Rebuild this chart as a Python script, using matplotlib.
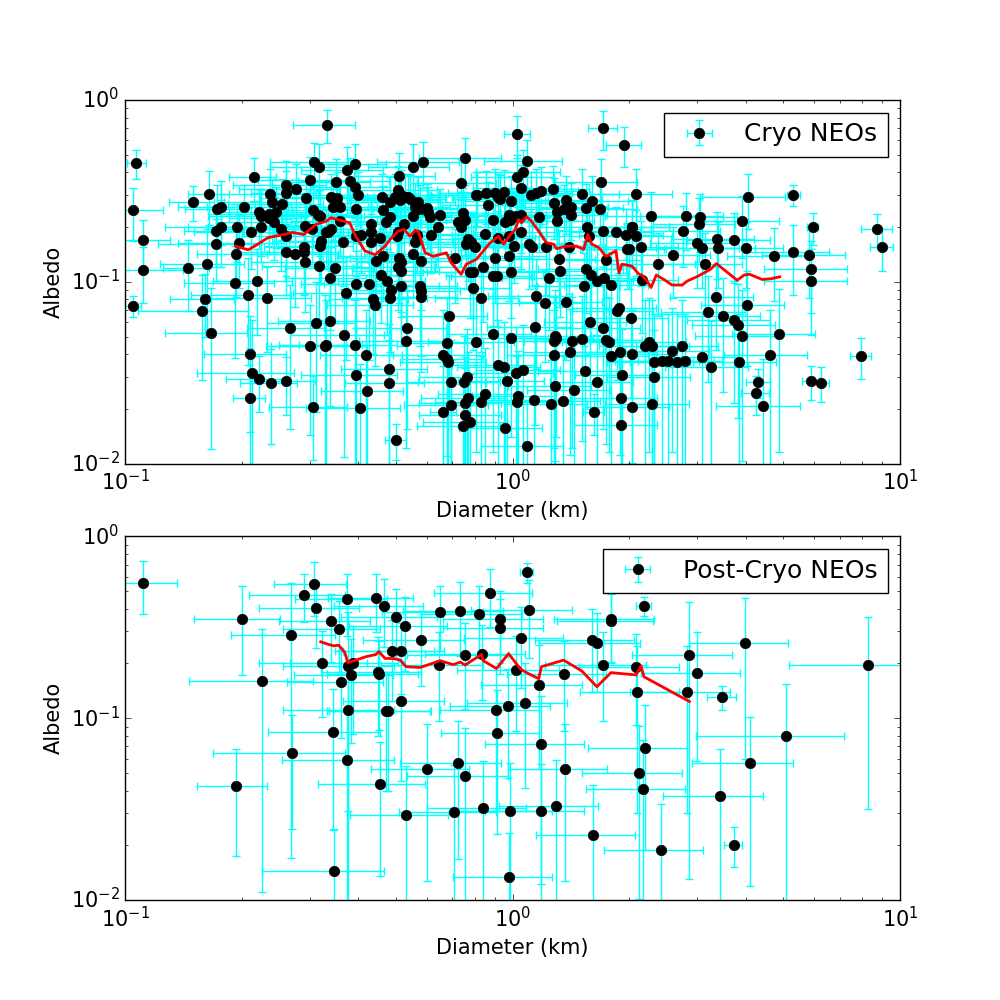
import matplotlib
matplotlib.use("Agg")
import matplotlib.pyplot as plt
import numpy as np

# ---------------- Cryo NEOs (top panel) ----------------
cryo_diam = [
 0.107,0.105,0.111,0.111,0.105,0.150,0.165,0.215,0.173,0.177,
 0.203,0.172,0.177,0.172,0.195,0.211,0.197,0.193,0.145,0.163,
 0.161,0.158,0.167,0.192,0.219,0.208,0.232,0.210,0.213,0.222,
 0.238,0.260,0.210,0.266,0.237,0.260,0.261,0.277,0.240,0.254,
 0.222,0.224,0.235,0.246,0.235,0.242,0.224,0.252,0.260,0.261,
 0.275,0.289,0.289,0.291,0.293,0.301,0.307,0.316,0.305,0.314,
 0.318,0.291,0.303,0.316,0.332,0.312,0.301,0.328,0.305,0.320,
 0.318,0.330,0.392,0.374,0.350,0.380,0.392,0.340,0.352,0.399,
 0.344,0.358,0.394,0.358,0.340,0.334,0.365,0.348,0.338,0.371,
 0.394,0.426,0.431,0.431,0.406,0.394,0.431,0.455,0.444,0.463,
 0.458,0.436,0.442,0.474,0.486,0.483,0.460,0.463,0.483,0.483,
 0.472,0.510,0.507,0.498,0.516,0.528,0.513,0.525,0.507,0.504,
 0.510,0.516,0.516,0.507,0.516,0.554,0.588,0.538,0.571,0.561,
 0.544,0.554,0.577,0.606,0.613,0.602,0.643,0.651,0.617,0.561,
 0.567,0.554,0.581,0.577,0.581,0.581,0.737,0.755,0.807,0.746,
 0.724,0.737,0.755,0.769,0.760,0.783,0.802,0.712,0.778,0.792,
 0.338,0.330,0.367,0.392,0.419,0.394,0.421,0.404,0.534,0.531,
 0.480,0.480,0.500,0.687,0.679,0.663,0.679,0.683,0.695,0.663,
 0.695,0.751,0.764,0.755,0.769,0.755,0.778,0.746,0.807,1.030,
 1.093,1.067,1.030,1.049,0.812,0.856,0.903,0.948,0.920,0.931,
 0.866,0.994,1.113,1.147,1.188,1.269,0.893,0.977,0.988,1.024,
 1.049,0.959,1.168,1.277,1.300,1.372,1.355,1.413,1.413,1.300,
 1.509,1.602,1.545,1.681,1.691,1.712,1.940,2.083,0.851,0.920,
 0.977,1.049,1.006,1.100,1.120,1.217,0.841,0.792,0.903,0.893,
 0.914,0.977,0.994,1.315,1.323,1.239,1.396,1.555,1.573,1.712,
 1.849,1.963,2.034,2.083,1.975,1.743,1.545,1.592,1.651,1.722,
 1.795,1.527,0.831,1.147,1.210,1.372,1.860,1.883,2.022,1.583,
 1.712,1.140,0.893,0.994,1.284,1.292,1.277,1.421,1.509,1.743,
 1.774,1.795,1.894,2.034,1.277,1.405,0.920,0.948,1.024,1.067,
 0.965,1.536,1.651,1.917,1.284,1.438,0.851,0.831,1.036,1.030,
 1.133,1.254,1.347,1.905,2.034,1.621,1.905,0.959,1.087,2.278,
 2.034,2.146,2.000,2.375,2.158,2.597,2.810,2.755,3.050,3.030,
 3.000,3.090,3.140,3.380,3.400,3.720,3.920,4.010,4.060,5.310,
 4.720,5.280,5.810,5.950,5.880,5.880,8.730,8.980,3.360,3.200,
 3.500,3.720,3.830,3.900,4.040,4.860,2.197,2.250,2.291,2.318,
 2.431,2.520,2.580,2.660,2.740,2.790,2.318,3.090,3.260,3.850,
 4.630,4.310,4.240,4.440,5.880,6.240,7.920,2.291]
cryo_albedo = [
 0.450,0.247,0.169,0.116,0.074,0.276,0.305,0.379,0.250,0.259,
 0.259,0.191,0.201,0.161,0.199,0.187,0.163,0.143,0.119,0.125,
 0.080,0.069,0.052,0.098,0.101,0.085,0.081,0.040,0.0315,0.0292,
 0.0278,0.0285,0.023,0.0556,0.305,0.342,0.309,0.325,0.276,0.269,
 0.243,0.229,0.237,0.243,0.223,0.212,0.199,0.194,0.178,0.145,
 0.143,0.145,0.156,0.128,0.290,0.364,0.457,0.430,0.247,0.234,
 0.229,0.204,0.196,0.122,0.730,0.0593,0.0443,0.0443,0.0205,0.167,
 0.158,0.187,0.446,0.413,0.355,0.360,0.334,0.294,0.290,0.302,
 0.259,0.259,0.253,0.215,0.194,0.187,0.165,0.119,0.1045,0.087,
 0.097,0.097,0.207,0.189,0.182,0.178,0.165,0.175,0.130,0.138,
 0.109,0.080,0.0744,0.1007,0.0898,0.0812,0.294,0.247,0.276,0.226,
 0.212,0.383,0.321,0.294,0.302,0.294,0.283,0.207,0.187,0.178,
 0.136,0.128,0.114,0.120,0.0945,0.430,0.457,0.294,0.276,0.259,
 0.287,0.229,0.250,0.243,0.226,0.256,0.201,0.234,0.182,0.165,
 0.182,0.143,0.130,0.0945,0.089,0.082,0.351,0.481,0.302,0.240,
 0.212,0.201,0.220,0.171,0.161,0.165,0.156,0.136,0.113,0.092,
 0.0608,0.0449,0.0509,0.0449,0.0396,0.0307,0.0251,0.0203,0.0556,0.0472,
 0.0333,0.0278,0.0135,0.0647,0.046,0.0396,0.0376,0.0362,0.0281,0.0193,
 0.0211,0.0281,0.030,0.0216,0.023,0.0186,0.017,0.0162,0.0466,0.651,
 0.460,0.403,0.379,0.330,0.302,0.309,0.309,0.313,0.294,0.287,
 0.263,0.280,0.302,0.309,0.317,0.325,0.220,0.234,0.220,0.229,
 0.234,0.212,0.226,0.273,0.243,0.283,0.250,0.234,0.259,0.217,
 0.305,0.280,0.256,0.250,0.355,0.703,0.567,0.305,0.184,0.175,
 0.178,0.187,0.158,0.161,0.155,0.155,0.120,0.113,0.136,0.107,
 0.107,0.138,0.113,0.133,0.114,0.1045,0.156,0.199,0.178,0.191,
 0.187,0.182,0.199,0.178,0.151,0.131,0.117,0.109,0.1007,0.1045,
 0.0957,0.0945,0.0812,0.0833,0.0763,0.0772,0.0689,0.0716,0.0631,0.060,
 0.0556,0.0563,0.0516,0.049,0.0503,0.049,0.0472,0.0472,0.0484,0.0478,
 0.0466,0.0391,0.0411,0.0401,0.0396,0.0411,0.0348,0.034,0.0315,0.0327,
 0.0285,0.0323,0.0281,0.0307,0.0267,0.0254,0.0242,0.0219,0.0236,0.0219,
 0.0224,0.0213,0.0221,0.023,0.0205,0.0193,0.0164,0.0157,0.0125,0.231,
 0.201,0.155,0.151,0.125,0.102,0.141,0.229,0.191,0.226,0.209,
 0.163,0.153,0.125,0.173,0.153,0.169,0.215,0.153,0.294,0.302,
 0.138,0.145,0.141,0.199,0.117,0.1007,0.196,0.155,0.0822,0.068,
 0.0647,0.0615,0.0578,0.0503,0.0744,0.0516,0.0443,0.0466,0.0443,0.0362,
 0.0367,0.0367,0.0416,0.0362,0.0443,0.0367,0.030,0.0386,0.034,0.0362,
 0.0396,0.0281,0.0245,0.0208,0.0285,0.0278,0.0391,0.0213]
cryo_diam_err = [
 0.006,0.02,0.02,0.03,0.005,0.02,0.02,0.03,0.03,0.04,
 0.04,0.03,0.05,0.05,0.05,0.06,0.06,0.04,0.02,0.04,
 0.03,0.05,0.04,0.05,0.05,0.06,0.07,0.05,0.06,0.04,
 0.04,0.05,0.02,0.06,0.06,0.07,0.05,0.08,0.06,0.07,
 0.05,0.06,0.07,0.06,0.05,0.07,0.06,0.07,0.06,0.07,
 0.08,0.07,0.06,0.08,0.07,0.08,0.07,0.08,0.07,0.09,
 0.08,0.07,0.08,0.09,0.06,0.08,0.07,0.09,0.07,0.08,
 0.07,0.09,0.08,0.09,0.08,0.10,0.09,0.08,0.09,0.10,
 0.08,0.09,0.10,0.09,0.08,0.09,0.10,0.09,0.08,0.10,
 0.11,0.10,0.10,0.11,0.10,0.09,0.11,0.10,0.12,0.11,
 0.12,0.10,0.11,0.12,0.11,0.12,0.11,0.12,0.11,0.12,
 0.11,0.12,0.13,0.12,0.13,0.12,0.13,0.12,0.13,0.12,
 0.13,0.12,0.13,0.12,0.13,0.13,0.14,0.13,0.14,0.13,
 0.13,0.14,0.14,0.15,0.14,0.15,0.16,0.15,0.15,0.14,
 0.13,0.14,0.15,0.14,0.15,0.14,0.17,0.18,0.19,0.18,
 0.17,0.18,0.19,0.18,0.19,0.18,0.20,0.17,0.19,0.20,
 0.09,0.08,0.10,0.11,0.10,0.11,0.10,0.11,0.14,0.13,
 0.12,0.11,0.03,0.17,0.16,0.17,0.16,0.17,0.16,0.05,
 0.17,0.18,0.19,0.18,0.19,0.18,0.19,0.18,0.20,0.08,
 0.25,0.26,0.25,0.26,0.20,0.21,0.22,0.23,0.22,0.23,
 0.21,0.24,0.27,0.28,0.29,0.31,0.22,0.24,0.24,0.25,
 0.26,0.23,0.28,0.31,0.32,0.33,0.33,0.34,0.35,0.32,
 0.37,0.39,0.38,0.41,0.40,0.15,0.20,0.50,0.21,0.22,
 0.24,0.26,0.25,0.27,0.27,0.30,0.21,0.19,0.22,0.22,
 0.22,0.24,0.24,0.32,0.32,0.30,0.34,0.38,0.38,0.42,
 0.45,0.48,0.50,0.50,0.48,0.42,0.38,0.39,0.40,0.42,
 0.44,0.37,0.20,0.28,0.30,0.33,0.45,0.46,0.49,0.38,
 0.42,0.28,0.22,0.24,0.31,0.32,0.31,0.35,0.37,0.42,
 0.43,0.44,0.46,0.50,0.31,0.34,0.22,0.23,0.25,0.26,
 0.24,0.37,0.40,0.47,0.31,0.35,0.21,0.20,0.25,0.25,
 0.28,0.30,0.33,0.46,0.50,0.10,0.46,0.23,0.26,0.55,
 0.50,0.52,0.49,0.58,0.52,0.63,0.68,0.67,0.74,0.73,
 0.73,0.75,0.76,0.82,0.83,0.90,0.95,0.97,0.98,0.20,
 1.14,1.28,1.40,0.20,1.42,1.43,0.80,0.60,0.81,0.78,
 0.85,0.90,0.93,0.94,0.98,1.18,0.53,0.55,0.56,0.56,
 0.59,0.61,0.63,0.65,0.66,0.68,0.56,0.75,0.79,0.93,
 1.12,0.30,0.35,1.08,0.30,0.30,0.50,0.56]
cryo_albedo_err = [
 0.08,0.08,0.05,0.04,0.01,0.06,0.10,0.10,0.09,0.10,
 0.08,0.07,0.08,0.06,0.07,0.07,0.07,0.06,0.05,0.07,
 0.03,0.04,0.04,0.06,0.05,0.05,0.04,0.025,0.03,0.01,
 0.015,0.01,0.02,0.04,0.11,0.12,0.10,0.12,0.09,0.10,
 0.08,0.09,0.08,0.09,0.08,0.08,0.07,0.08,0.07,0.06,
 0.07,0.06,0.07,0.06,0.10,0.12,0.12,0.14,0.09,0.08,
 0.09,0.08,0.07,0.06,0.15,0.04,0.03,0.04,0.01,0.07,
 0.06,0.07,0.13,0.14,0.12,0.12,0.11,0.10,0.11,0.10,
 0.09,0.10,0.09,0.08,0.08,0.07,0.07,0.06,0.05,0.05,
 0.05,0.06,0.08,0.07,0.07,0.07,0.07,0.07,0.06,0.06,
 0.05,0.04,0.04,0.05,0.05,0.04,0.10,0.09,0.10,0.08,
 0.08,0.13,0.11,0.10,0.11,0.10,0.10,0.08,0.07,0.07,
 0.06,0.06,0.05,0.05,0.05,0.14,0.13,0.10,0.10,0.09,
 0.10,0.08,0.09,0.09,0.08,0.09,0.08,0.09,0.07,0.07,
 0.07,0.06,0.06,0.05,0.05,0.05,0.12,0.14,0.10,0.09,
 0.08,0.08,0.08,0.07,0.07,0.07,0.07,0.06,0.05,0.05,
 0.04,0.035,0.04,0.035,0.03,0.025,0.02,0.015,0.04,0.035,
 0.025,0.02,0.003,0.045,0.035,0.03,0.03,0.03,0.02,0.015,
 0.016,0.022,0.025,0.017,0.018,0.015,0.014,0.013,0.035,0.17,
 0.14,0.13,0.12,0.11,0.10,0.10,0.11,0.10,0.10,0.10,
 0.09,0.10,0.10,0.11,0.11,0.11,0.08,0.08,0.08,0.08,
 0.09,0.08,0.08,0.10,0.09,0.10,0.09,0.09,0.09,0.08,
 0.11,0.10,0.09,0.09,0.12,0.17,0.14,0.11,0.07,0.07,
 0.07,0.07,0.06,0.07,0.06,0.07,0.06,0.05,0.06,0.05,
 0.05,0.06,0.05,0.06,0.05,0.05,0.07,0.08,0.07,0.07,
 0.07,0.07,0.08,0.07,0.06,0.06,0.05,0.05,0.05,0.05,
 0.05,0.05,0.04,0.05,0.04,0.04,0.04,0.04,0.04,0.04,
 0.04,0.04,0.04,0.035,0.04,0.035,0.035,0.035,0.035,0.035,
 0.035,0.03,0.03,0.03,0.03,0.03,0.027,0.026,0.025,0.025,
 0.022,0.025,0.022,0.024,0.02,0.02,0.019,0.017,0.018,0.017,
 0.017,0.016,0.017,0.018,0.016,0.005,0.013,0.012,0.01,0.08,
 0.08,0.06,0.06,0.06,0.05,0.06,0.08,0.07,0.08,0.08,
 0.07,0.06,0.06,0.07,0.06,0.07,0.08,0.06,0.10,0.04,
 0.06,0.06,0.06,0.04,0.05,0.05,0.04,0.04,0.04,0.04,
 0.04,0.04,0.04,0.04,0.04,0.04,0.035,0.035,0.035,0.03,
 0.03,0.03,0.03,0.03,0.035,0.03,0.024,0.03,0.027,0.03,
 0.03,0.005,0.006,0.017,0.006,0.006,0.01,0.017]

# running median curve (top)
cryo_med_diam = [0.193,0.208,0.217,0.234,0.257,0.270,0.289,0.311,0.330,0.340,
 0.354,0.380,0.394,0.416,0.442,0.469,0.483,0.507,0.525,0.544,
 0.561,0.571,0.595,0.624,0.675,0.695,0.737,0.760,0.807,0.841,
 0.876,0.920,0.948,0.988,1.018,1.036,1.055,1.087,1.120,1.168,
 1.224,1.277,1.300,1.372,1.464,1.527,1.564,1.602,1.671,1.743,
 1.849,1.883,1.917,2.034,2.120,2.158,2.223,2.278,2.350,2.460,
 2.580,2.740,2.825,3.000,3.240,3.360,3.580,3.800,3.960,4.090,
 4.410,4.650,4.890]
cryo_med_albedo = [0.157,0.150,0.158,0.175,0.182,0.187,0.182,0.207,0.215,0.225,
 0.220,0.211,0.178,0.148,0.141,0.157,0.171,0.190,0.194,0.178,
 0.192,0.190,0.1445,0.138,0.1445,0.127,0.110,0.125,0.133,0.148,
 0.164,0.178,0.161,0.182,0.194,0.220,0.211,0.228,0.215,0.190,
 0.164,0.161,0.152,0.157,0.157,0.151,0.182,0.161,0.154,0.138,
 0.148,0.112,0.125,0.122,0.110,0.109,0.1012,0.093,0.109,0.103,
 0.096,0.096,0.101,0.107,0.117,0.126,0.113,0.102,0.109,0.110,
 0.103,0.104,0.1065]

# ---------------- Post-Cryo NEOs (bottom panel) ----------------
post_diam = [0.111,0.201,0.307,0.289,0.312,0.374,0.444,0.466,0.340,0.356,
 0.268,0.322,0.376,0.387,0.383,0.362,0.450,0.452,0.226,0.376,
 0.472,0.344,0.269,0.374,0.455,0.193,0.346,0.500,0.528,0.581,
 0.489,0.516,0.647,0.651,0.733,0.821,0.876,1.087,0.931,0.931,
 1.100,1.049,0.755,0.836,1.018,1.168,1.355,1.800,1.800,1.602,
 1.651,1.712,2.083,2.095,0.516,0.477,0.909,0.971,1.074,0.914,
 1.188,0.602,0.724,0.755,1.364,0.531,0.708,0.841,0.988,1.188,
 1.292,1.612,0.982,2.120,2.184,2.860,3.000,2.825,3.990,3.480,
 8.260,2.197,2.171,5.070,4.110,3.440,2.417,3.720]
post_albedo = [0.555,0.352,0.547,0.477,0.404,0.453,0.459,0.415,0.343,0.310,
 0.287,0.202,0.194,0.202,0.173,0.158,0.180,0.176,0.161,0.111,
 0.110,0.0842,0.0646,0.059,0.0436,0.0425,0.0145,0.361,0.322,0.270,
 0.235,0.235,0.1965,0.384,0.389,0.375,0.489,0.637,0.352,0.314,
 0.394,0.277,0.223,0.226,0.1845,0.1527,0.175,0.352,0.344,0.270,
 0.260,0.1965,0.1915,0.140,0.125,0.110,0.111,0.117,0.1215,0.0832,
 0.0723,0.0527,0.0569,0.0483,0.0527,0.0294,0.0306,0.0322,0.031,0.031,
 0.033,0.0229,0.0133,0.0501,0.415,0.223,0.178,0.140,0.260,0.131,
 0.1965,0.0688,0.041,0.080,0.057,0.0375,0.0189,0.0201]
post_diam_err = [0.025,0.05,0.065,0.08,0.09,0.10,0.11,0.12,0.09,0.10,
 0.08,0.10,0.12,0.12,0.11,0.10,0.13,0.12,0.08,0.12,
 0.14,0.11,0.10,0.12,0.14,0.04,0.12,0.14,0.15,0.17,
 0.14,0.15,0.19,0.19,0.21,0.24,0.25,0.04,0.27,0.27,
 0.32,0.30,0.22,0.24,0.30,0.34,0.39,0.52,0.50,0.46,
 0.48,0.50,0.60,0.60,0.15,0.14,0.26,0.28,0.31,0.26,
 0.34,0.17,0.21,0.22,0.39,0.15,0.20,0.24,0.28,0.34,
 0.37,0.46,0.28,0.61,0.10,0.82,0.86,0.81,1.14,0.30,
 3.10,0.63,0.62,2.10,1.20,1.00,0.69,0.20]
post_albedo_err = [0.18,0.18,0.18,0.14,0.16,0.17,0.16,0.17,0.14,0.13,
 0.27,0.10,0.19,0.12,0.10,0.08,0.10,0.09,0.15,0.08,
 0.07,0.06,0.04,0.05,0.03,0.025,0.01,0.15,0.14,0.12,
 0.11,0.10,0.10,0.15,0.17,0.16,0.17,0.08,0.15,0.14,
 0.18,0.13,0.11,0.10,0.10,0.10,0.09,0.15,0.14,0.13,
 0.12,0.10,0.10,0.11,0.08,0.07,0.08,0.07,0.08,0.06,
 0.06,0.04,0.04,0.04,0.04,0.025,0.025,0.026,0.026,0.025,
 0.026,0.02,0.01,0.04,0.05,0.21,0.12,0.11,0.20,0.02,
 0.165,0.05,0.035,0.075,0.045,0.03,0.015,0.005]

post_med_diam = [0.320,0.334,0.346,0.356,0.369,0.376,0.390,0.419,0.444,0.452,
 0.469,0.492,0.513,0.531,0.577,0.651,0.703,0.733,0.755,0.831,
 0.841,0.909,0.977,1.049,1.087,1.168,1.188,1.355,1.509,1.651,
 1.795,2.083,2.146,2.184,2.860]
post_med_albedo = [0.263,0.255,0.250,0.252,0.230,0.202,0.207,0.218,0.224,0.2325,
 0.213,0.213,0.209,0.192,0.190,0.207,0.197,0.2035,0.196,0.224,
 0.207,0.1875,0.2265,0.186,0.178,0.165,0.192,0.2085,0.182,0.149,
 0.178,0.173,0.194,0.169,0.1235]

panels = [
    (cryo_diam, cryo_albedo, cryo_diam_err, cryo_albedo_err,
     cryo_med_diam, cryo_med_albedo, "Cryo NEOs"),
    (post_diam, post_albedo, post_diam_err, post_albedo_err,
     post_med_diam, post_med_albedo, "Post-Cryo NEOs"),
]

plt.style.use("classic")
plt.rcParams["font.family"] = ["DejaVu Sans"]
fig = plt.figure(figsize=(10, 10), dpi=100, facecolor="white")
fig.subplots_adjust(left=0.125, right=0.9, bottom=0.1, top=0.9, hspace=0.2)

for i, (d, a, de, ae, md, ma, lab) in enumerate(panels):
    ax = fig.add_subplot(2, 1, i + 1)
    ax.set_xscale("log", nonpositive="clip")
    ax.set_yscale("log", nonpositive="clip")
    ax.errorbar(d, a, xerr=de, yerr=ae, fmt="o", color="black",
                markerfacecolor="black", markeredgecolor="black",
                markersize=7.5, ecolor="cyan", elinewidth=1,
                capsize=3, capthick=1, label=lab, zorder=2)
    ax.plot(md, ma, color="red", linewidth=2, zorder=4)
    ax.set_xlim(0.1, 10)
    ax.set_ylim(0.01, 1)
    ax.set_xlabel("Diameter (km)", fontsize=15)
    ax.set_ylabel("Albedo", fontsize=15)
    ax.tick_params(labelsize=15)
    ax.legend(loc="upper right", numpoints=1, fontsize=18,
              fancybox=False, frameon=True)

fig.savefig("out.png", dpi=100, facecolor="white")
